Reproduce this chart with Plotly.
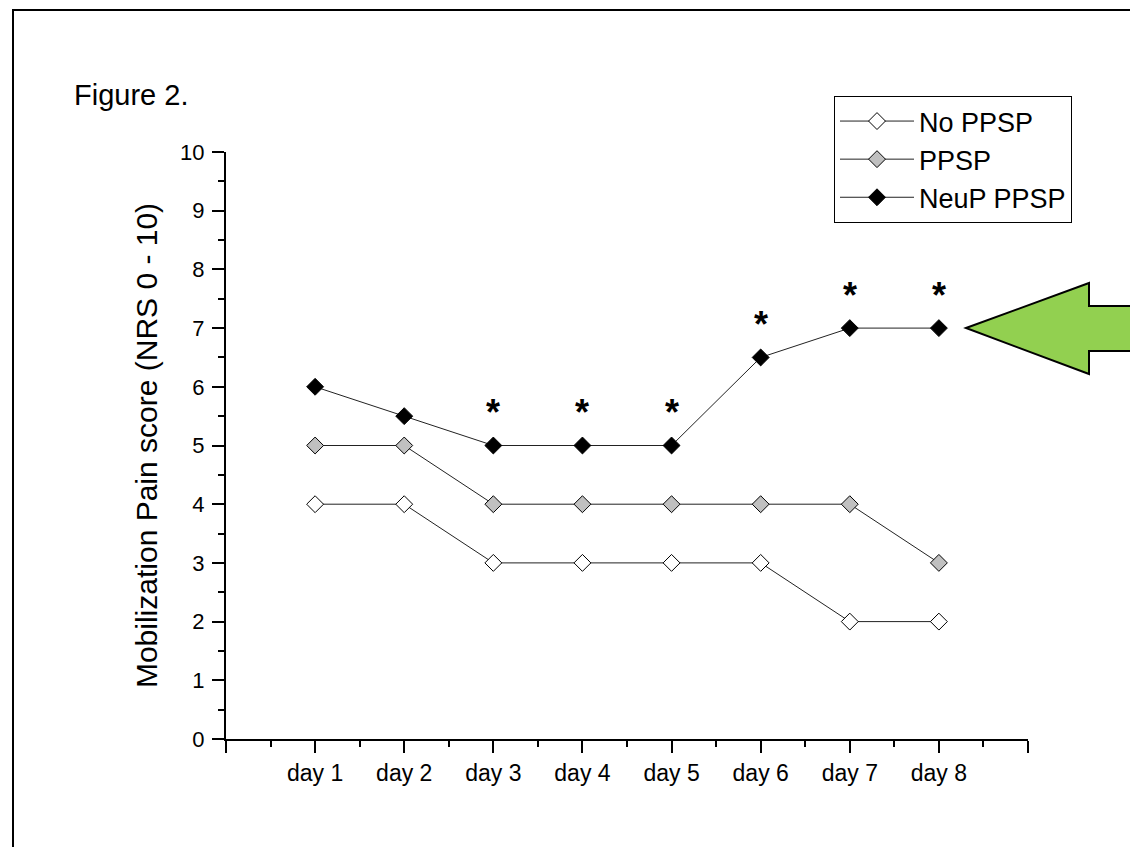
import numpy as np
import plotly.graph_objects as go

# ---- data ----
days = ["day 1", "day 2", "day 3", "day 4", "day 5", "day 6", "day 7", "day 8"]
no_ppsp = [4, 4, 3, 3, 3, 3, 2, 2]
ppsp = [5, 5, 4, 4, 4, 4, 4, 3]
neup_ppsp = [6, 5.5, 5, 5, 5, 6.5, 7, 7]
significant = [False, False, True, True, True, True, True, True]
y_ticks = list(range(0, 11))

FONT = "Liberation Sans, Arial, sans-serif"
OFF = 8  # page body margin
W, H = 1138 - OFF, 847 - OFF
L, R, T, B = 226 - OFF, 1028 - OFF, 152 - OFF, 739 - OFF  # plot area in figure px

def px(x):
    return (x - OFF - L) / (R - L)

def py(y):
    return (B - (y - OFF)) / (B - T)

xpos = list(range(1, len(days) + 1))

fig = go.Figure()

series = [
    ("No PPSP", no_ppsp, "white"),
    ("PPSP", ppsp, "#C0C0C0"),
    ("NeuP PPSP", neup_ppsp, "black"),
]
for i, (name, vals, fill) in enumerate(series):
    fig.add_trace(go.Scatter(
        x=xpos, y=vals, name=name, mode="lines+markers",
        line=dict(color="#222222", width=1),
        marker=dict(symbol="diamond", size=13, color=fill,
                    line=dict(color="black", width=1)),
        cliponaxis=False, legendgroup=name,
    ))

for xv, yv, s in zip(xpos, neup_ppsp, significant):
    if s:
        fig.add_annotation(x=xv, y=yv, text="<b>*</b>", showarrow=False,
                           yshift=33, yanchor="middle",
                           font=dict(family=FONT, size=36, color="black"))

# "Figure 2." label
fig.add_annotation(xref="paper", yref="paper", x=px(72), y=py(95),
                   xanchor="left", yanchor="middle", showarrow=False,
                   text="Figure 2.", font=dict(family=FONT, size=29, color="black"))

# outer frame
fig.add_shape(type="rect", xref="paper", yref="paper",
              x0=px(13), x1=px(1170), y0=py(10), y1=py(880),
              line=dict(color="black", width=2), fillcolor="rgba(0,0,0,0)", layer="below")

# green arrow
pts = [(966, 328), (1089, 283), (1089, 306), (1170, 306), (1170, 351), (1089, 351), (1089, 374)]
path = "M " + " L ".join(f"{px(a):.5f},{py(b):.5f}" for a, b in pts) + " Z"
fig.add_shape(type="path", xref="paper", yref="paper", path=path,
              fillcolor="#92D050", line=dict(color="black", width=2))

fig.update_layout(
    width=W, height=H,
    margin=dict(l=L, r=W - R, t=T, b=H - B),
    paper_bgcolor="white", plot_bgcolor="white",
    font=dict(family=FONT, color="black"),
    showlegend=True,
    legend=dict(x=px(834), y=py(96), xanchor="left", yanchor="top",
                bordercolor="black", borderwidth=1, bgcolor="white",
                font=dict(family=FONT, size=27), itemwidth=74,
                tracegroupgap=0),
    xaxis=dict(
        range=[0, len(days) + 1], tickmode="array",
        tickvals=list(range(0, len(days) + 2)),
        ticktext=[""] + days + [""],
        ticks="outside", ticklen=12, tickwidth=2, tickcolor="black",
        showline=True, linewidth=2, linecolor="black",
        showgrid=False, zeroline=False,
        tickfont=dict(family=FONT, size=23),
        minor=dict(tickvals=list(np.arange(0.5, len(days) + 1, 1.0)),
                   ticks="outside", ticklen=6, tickwidth=2, tickcolor="black",
                   showgrid=False),
    ),
    yaxis=dict(
        range=[0, 10], tickmode="array", tickvals=y_ticks,
        ticks="outside", ticklen=12, tickwidth=2, tickcolor="black",
        showline=True, linewidth=2, linecolor="black",
        showgrid=False, zeroline=False,
        tickfont=dict(family=FONT, size=22), ticklabelstandoff=3,
        title=dict(text="Mobilization Pain score (NRS 0 - 10)",
                   font=dict(family=FONT, size=30), standoff=14),
        minor=dict(tickvals=list(np.arange(0.5, 10, 1.0)),
                   ticks="outside", ticklen=6, tickwidth=2, tickcolor="black",
                   showgrid=False),
    ),
)

fig.write_html("out.html")
